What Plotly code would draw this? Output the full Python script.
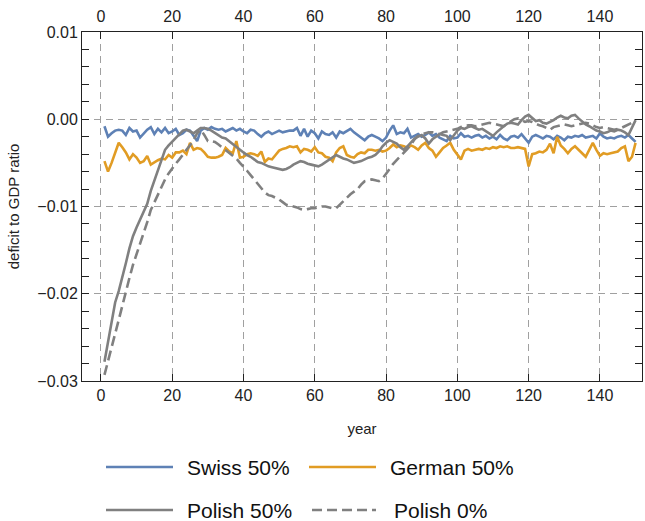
import plotly.graph_objects as go

years = list(range(1, 151))

swiss_50 = [
    -0.0008, -0.0020, -0.0016, -0.0013, -0.0012, -0.0013, -0.0018, -0.0010, -0.0014, -0.0013,
    -0.0021, -0.0016, -0.0012, -0.0009, -0.0017, -0.0011, -0.0015, -0.0010, -0.0016, -0.0014,
    -0.0011, -0.0018, -0.0016, -0.0012, -0.0013, -0.0019, -0.0025, -0.0013, -0.0010, -0.0012,
    -0.0009, -0.0011, -0.0012, -0.0011, -0.0014, -0.0012, -0.0010, -0.0013, -0.0011, -0.0014,
    -0.0016, -0.0012, -0.0013, -0.0017, -0.0020, -0.0016, -0.0014, -0.0017, -0.0015, -0.0013,
    -0.0015, -0.0014, -0.0013, -0.0013, -0.0010, -0.0019, -0.0011, -0.0020, -0.0013, -0.0016,
    -0.0022, -0.0014, -0.0017, -0.0018, -0.0015, -0.0021, -0.0014, -0.0016, -0.0013, -0.0011,
    -0.0015, -0.0018, -0.0021, -0.0024, -0.0020, -0.0018, -0.0020, -0.0022, -0.0025, -0.0021,
    -0.0013, -0.0007, -0.0017, -0.0015, -0.0016, -0.0011, -0.0021, -0.0019, -0.0017, -0.0020,
    -0.0018, -0.0015, -0.0019, -0.0017, -0.0021, -0.0023, -0.0025, -0.0019, -0.0022, -0.0021,
    -0.0016, -0.0020, -0.0019, -0.0021, -0.0019, -0.0018, -0.0021, -0.0019, -0.0022, -0.0020,
    -0.0023, -0.0018, -0.0022, -0.0024, -0.0020, -0.0019, -0.0021, -0.0017, -0.0022, -0.0027,
    -0.0020, -0.0018, -0.0020, -0.0022, -0.0019, -0.0020, -0.0023, -0.0019, -0.0021, -0.0024,
    -0.0020, -0.0021, -0.0019, -0.0020, -0.0018, -0.0021, -0.0020, -0.0019, -0.0022, -0.0016,
    -0.0020, -0.0022, -0.0021, -0.0022, -0.0020, -0.0019, -0.0021, -0.0018, -0.0022, -0.0026,
]

german_50 = [
    -0.0048, -0.0060, -0.0050, -0.0038, -0.0027, -0.0032, -0.0038, -0.0046, -0.0040, -0.0044,
    -0.0050, -0.0048, -0.0042, -0.0052, -0.0049, -0.0047, -0.0045, -0.0046, -0.0041, -0.0044,
    -0.0038, -0.0038, -0.0036, -0.0040, -0.0027, -0.0035, -0.0033, -0.0034, -0.0038, -0.0043,
    -0.0044, -0.0044, -0.0043, -0.0041, -0.0033, -0.0037, -0.0039, -0.0025, -0.0044, -0.0043,
    -0.0040, -0.0039, -0.0040, -0.0042, -0.0037, -0.0049, -0.0045, -0.0046, -0.0041, -0.0036,
    -0.0034, -0.0033, -0.0031, -0.0032, -0.0031, -0.0038, -0.0034, -0.0035, -0.0037, -0.0032,
    -0.0038, -0.0039, -0.0043, -0.0044, -0.0048, -0.0038, -0.0033, -0.0031, -0.0041, -0.0043,
    -0.0044, -0.0040, -0.0038, -0.0039, -0.0035, -0.0035, -0.0036, -0.0035, -0.0037, -0.0036,
    -0.0033, -0.0029, -0.0032, -0.0030, -0.0031, -0.0033, -0.0030, -0.0032, -0.0035, -0.0030,
    -0.0027, -0.0033, -0.0036, -0.0043, -0.0038, -0.0033, -0.0030, -0.0027, -0.0035, -0.0040,
    -0.0046, -0.0036, -0.0034, -0.0036, -0.0035, -0.0034, -0.0035, -0.0033, -0.0034, -0.0032,
    -0.0033, -0.0031, -0.0032, -0.0031, -0.0033, -0.0033, -0.0032, -0.0033, -0.0034, -0.0054,
    -0.0040, -0.0039, -0.0037, -0.0038, -0.0035, -0.0028, -0.0039, -0.0020, -0.0030, -0.0034,
    -0.0039, -0.0034, -0.0031, -0.0035, -0.0039, -0.0043, -0.0035, -0.0027, -0.0035, -0.0042,
    -0.0039, -0.0040, -0.0039, -0.0038, -0.0037, -0.0033, -0.0031, -0.0048, -0.0043, -0.0027,
]

polish_50 = [
    -0.0278, -0.0255, -0.0232, -0.0210, -0.0197, -0.0182, -0.0165, -0.0148, -0.0134, -0.0124,
    -0.0115, -0.0107, -0.0097, -0.0082, -0.0070, -0.0057, -0.0045, -0.0035, -0.0030, -0.0026,
    -0.0022, -0.0017, -0.0013, -0.0012, -0.0014, -0.0016, -0.0013, -0.0010, -0.0010, -0.0011,
    -0.0013, -0.0016, -0.0019, -0.0021, -0.0022, -0.0025, -0.0028, -0.0032, -0.0035, -0.0038,
    -0.0041, -0.0043, -0.0046, -0.0049, -0.0050, -0.0052, -0.0054, -0.0055, -0.0056, -0.0057,
    -0.0058, -0.0057, -0.0055, -0.0052, -0.0050, -0.0048, -0.0049, -0.0051, -0.0052, -0.0053,
    -0.0054, -0.0052, -0.0049, -0.0046, -0.0043, -0.0041, -0.0043, -0.0045, -0.0046, -0.0048,
    -0.0050, -0.0049, -0.0048, -0.0046, -0.0044, -0.0043, -0.0041, -0.0037, -0.0031, -0.0027,
    -0.0024, -0.0026, -0.0028, -0.0032, -0.0035, -0.0031, -0.0027, -0.0022, -0.0020, -0.0018,
    -0.0022, -0.0028, -0.0023, -0.0020, -0.0017, -0.0018, -0.0019, -0.0024, -0.0018, -0.0013,
    -0.0010, -0.0011, -0.0009, -0.0008, -0.0010, -0.0012, -0.0011, -0.0014, -0.0017, -0.0019,
    -0.0015, -0.0011, -0.0008, -0.0005, -0.0004, -0.0005, -0.0006, -0.0001, 0.0003, 0.0005,
    0.0001, -0.0002, -0.0001, -0.0004, -0.0005, -0.0003, -0.0001, 0.0002, 0.0004, 0.0002,
    0.0001, 0.0004, 0.0005, 0.0001, -0.0003, -0.0006, -0.0008, -0.0011, -0.0013, -0.0014,
    -0.0016, -0.0015, -0.0013, -0.0014, -0.0012, -0.0013, -0.0015, -0.0018, -0.0009, -0.0001,
]

polish_0 = [
    -0.0293, -0.0278, -0.0262, -0.0245, -0.0230, -0.0214, -0.0197, -0.0182, -0.0167, -0.0155,
    -0.0142, -0.0130, -0.0118, -0.0104, -0.0095, -0.0087, -0.0078, -0.0069, -0.0062, -0.0056,
    -0.0051, -0.0046, -0.0040, -0.0035, -0.0030, -0.0024, -0.0016, -0.0012, -0.0018, -0.0025,
    -0.0025, -0.0026, -0.0029, -0.0032, -0.0036, -0.0039, -0.0042, -0.0045, -0.0050, -0.0054,
    -0.0059, -0.0064, -0.0069, -0.0074, -0.0078, -0.0084, -0.0087, -0.0088, -0.0090, -0.0092,
    -0.0095, -0.0098, -0.0099, -0.0100, -0.0101, -0.0103, -0.0104, -0.0103, -0.0102, -0.0102,
    -0.0101, -0.0100, -0.0100, -0.0101, -0.0102, -0.0102, -0.0098, -0.0093, -0.0089, -0.0086,
    -0.0083, -0.0080, -0.0075, -0.0071, -0.0070, -0.0069, -0.0070, -0.0071, -0.0068, -0.0063,
    -0.0057, -0.0051, -0.0047, -0.0043, -0.0039, -0.0034, -0.0029, -0.0023, -0.0019, -0.0017,
    -0.0016, -0.0015, -0.0015, -0.0016, -0.0017, -0.0015, -0.0014, -0.0013, -0.0012, -0.0011,
    -0.0009, -0.0008, -0.0007, -0.0007, -0.0008, -0.0007, -0.0006, -0.0005, -0.0004, -0.0005,
    -0.0006, -0.0007, -0.0008, -0.0005, -0.0002, 0.0000, 0.0001, -0.0001, -0.0003, -0.0002,
    -0.0003, -0.0005, -0.0007, -0.0008, -0.0010, -0.0012, -0.0009, -0.0008, -0.0007, -0.0006,
    -0.0007, -0.0008, -0.0007, -0.0006, -0.0005, -0.0004, -0.0005, -0.0007, -0.0009, -0.0010,
    -0.0009, -0.0010, -0.0011, -0.0012, -0.0011, -0.0010, -0.0008, -0.0006, -0.0004, -0.0002,
]

series_names = ["Swiss 50%", "German 50%", "Polish 50%", "Polish 0%"]
x_tick_vals = [0, 20, 40, 60, 80, 100, 120, 140]
y_tick_vals = [-0.03, -0.02, -0.01, 0.00, 0.01]
y_tick_text = ["\u22120.03", "\u22120.02", "\u22120.01", "0.00", "0.01"]

BLUE = "#5e81b5"
ORANGE = "#e19c24"
GRAY = "#808080"
FONT = "Liberation Sans, Arial, sans-serif"

styles = [
    dict(color=BLUE, width=2.6, dash="solid"),
    dict(color=ORANGE, width=2.6, dash="solid"),
    dict(color=GRAY, width=2.6, dash="solid"),
    dict(color=GRAY, width=2.6, dash="10px,5px"),
]

fig = go.Figure()
for name, vals, st in zip(series_names, [swiss_50, german_50, polish_50, polish_0], styles):
    fig.add_trace(go.Scatter(x=years, y=vals, mode="lines", name=name, line=st,
                             showlegend=False))

# invisible trace to carry the top axis
fig.add_trace(go.Scatter(x=[years[0], years[-1]], y=[polish_0[0], polish_0[-1]],
                         mode="lines", line=dict(width=0), xaxis="x2",
                         showlegend=False, hoverinfo="skip"))

XR = [-5.3, 151.8]
TICKFONT = dict(family=FONT, size=16, color="#222222")
axis_common = dict(
    showline=True, linecolor="#222222", linewidth=1,
    ticks="inside", tickcolor="#222222", ticklen=7, tickwidth=1,
    showgrid=True, gridcolor="#a0a0a0", gridwidth=1, griddash="7px,5px",
    zeroline=False, tickfont=TICKFONT, automargin=False,
)

fig.update_layout(
    width=645, height=521,
    margin=dict(l=82, r=3, t=32, b=140, autoexpand=False),
    paper_bgcolor="white", plot_bgcolor="white",
    font=dict(family=FONT, size=15, color="#222222"),
    xaxis=dict(range=XR, tickvals=x_tick_vals, mirror="ticks",
               title=dict(text="year", font=dict(family=FONT, size=15), standoff=20),
               **axis_common),
    xaxis2=dict(range=XR, tickvals=x_tick_vals, overlaying="x", side="top",
                matches="x", showline=False, ticks="", showgrid=False, zeroline=False,
                tickfont=TICKFONT, automargin=False, ticklabelstandoff=6),
    yaxis=dict(range=[-0.03, 0.01], tickvals=y_tick_vals, ticktext=y_tick_text,
               mirror="allticks",
               minor=dict(ticks="inside", ticklen=4, tickcolor="#222222", dtick=0.002,
                          tick0=0, showgrid=False),
               title=dict(text="deficit to GDP ratio", font=dict(family=FONT, size=15),
                          standoff=14),
               **axis_common),
)

# legend (2 x 2) drawn below the plot
plot_h = 381 - 32
plot_w = 642 - 82
def px_to_paper_x(px):
    return (px - 82) / plot_w
def px_to_paper_y(py):
    return (381 - py) / plot_h

legend_items = [
    (series_names[0], styles[0], 106, 173, 185, 467),
    (series_names[1], styles[1], 309, 376, 388, 467),
    (series_names[2], styles[2], 106, 173, 185, 510),
    (series_names[3], styles[3], 312, 376, 392, 510),
]
for name, st, x0, x1, xt, yy in legend_items:
    fig.add_shape(type="line", xref="paper", yref="paper",
                  x0=px_to_paper_x(x0), x1=px_to_paper_x(x1),
                  y0=px_to_paper_y(yy), y1=px_to_paper_y(yy),
                  line=dict(color=st["color"], width=2.6, dash=st["dash"]))
    fig.add_annotation(text=name, xref="paper", yref="paper",
                       x=px_to_paper_x(xt), y=px_to_paper_y(yy),
                       xanchor="left", yanchor="middle", showarrow=False,
                       font=dict(family=FONT, size=21, color="#111111"))

fig.write_html("out.html",
               config={"displayModeBar": False},
               post_script="document.body.style.margin='0';document.body.style.overflow='hidden';")
